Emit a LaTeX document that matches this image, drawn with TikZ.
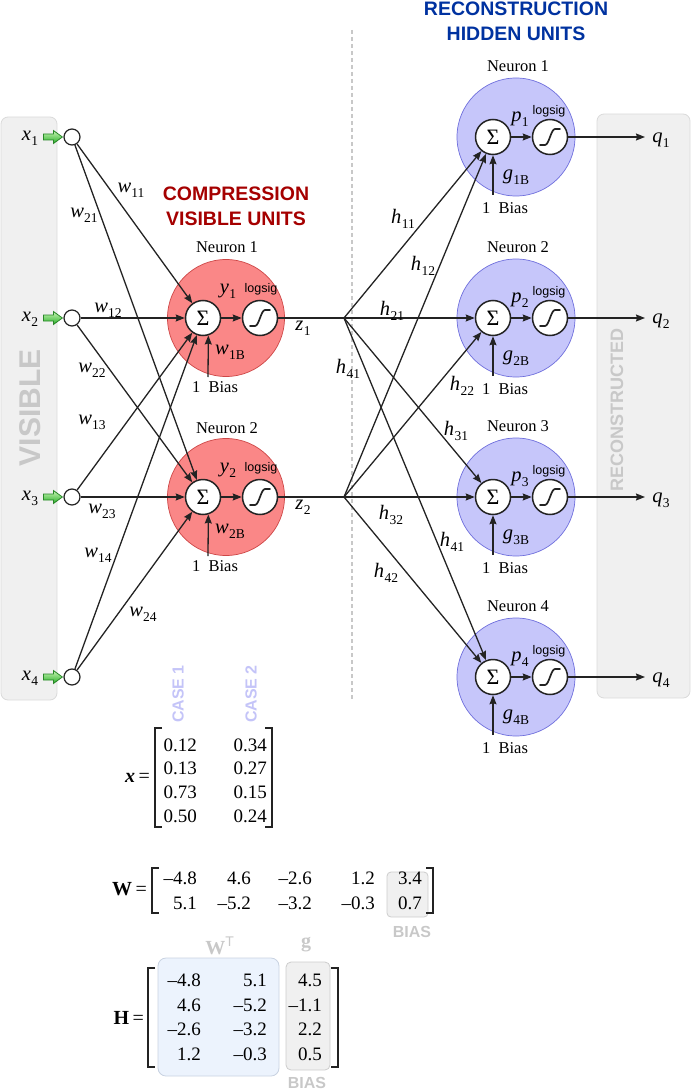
\documentclass[tikz,border=0pt]{standalone}
\usepackage{fontspec}
\setmainfont{Liberation Serif}
\setsansfont{Liberation Sans}
\usetikzlibrary{arrows.meta,calc}
\definecolor{linec}{RGB}{35,35,35}
\definecolor{redfill}{RGB}{250,135,135}
\definecolor{redline}{RGB}{205,70,70}
\definecolor{bluefill}{RGB}{198,198,250}
\definecolor{blueline}{RGB}{110,110,220}
\definecolor{boxfill}{RGB}{240,240,240}
\definecolor{boxline}{RGB}{218,218,218}
\definecolor{titlered}{RGB}{165,0,0}
\definecolor{titleblue}{RGB}{0,50,160}
\definecolor{casecol}{RGB}{196,196,248}
\definecolor{biascol}{RGB}{200,200,200}
\definecolor{wtbox}{RGB}{236,243,253}
\definecolor{wtline}{RGB}{200,210,225}
\definecolor{gboxline}{RGB}{205,205,205}
\newcommand\vs[2]{\textit{#1}\kern0.3pt\raisebox{-5pt}{\fontsize{13.5}{13.5}\selectfont #2}}
\newcommand\sigcurve[1]{\draw[line width=1.7pt,line cap=round,draw=linec] ([shift={(-10,8)}]#1.center) -- ++(5,0) .. controls +(4,0) and +(-4,0) .. ++(10,-16) -- ++(5,0);}
\begin{document}
\begin{tikzpicture}[x=1pt,y=-1pt,
  conn/.style={draw=linec,line width=1.3pt,-{Stealth[length=9pt,width=7pt,inset=1pt]}},
  plainline/.style={draw=linec,line width=1.3pt},
  sumnode/.style={circle,draw=linec,line width=1.5pt,fill=white,minimum size=35pt,inner sep=0pt,font=\fontsize{22}{22}\selectfont},
  innode/.style={circle,draw=linec,line width=1.2pt,fill=white,minimum size=16pt,inner sep=0pt},
  redneuron/.style={circle,fill=redfill,draw=redline,line width=0.7pt,minimum size=117pt,inner sep=0pt},
  blueneuron/.style={circle,fill=bluefill,draw=blueline,line width=0.7pt,minimum size=118pt,inner sep=0pt},
  lbl/.style={font=\fontsize{16.5}{18}\selectfont,inner sep=0pt},
  var/.style={font=\fontsize{20.5}{20.5}\selectfont,inner sep=0pt},
  lsg/.style={font=\sffamily\fontsize{12.5}{12.5}\selectfont,inner sep=0pt},
  num/.style={font=\fontsize{19}{19}\selectfont,inner sep=0pt,anchor=east},
  graybox/.style={fill=boxfill,draw=boxline,line width=0.8pt,rounded corners=7pt},
  garrow/.style={draw={rgb,255:red,40;green,135;blue,40},line width=0.8pt,top color={rgb,255:red,200;green,245;blue,180},bottom color={rgb,255:red,40;green,175;blue,40}},
  bracket/.style={draw=linec,line width=1.6pt}
]
\useasboundingbox (0,0) rectangle (693,1091);

% side boxes
\draw[graybox] (1,117) rectangle (57,700);
\draw[graybox] (597,114) rectangle (690,698);
\node[font=\sffamily\bfseries\fontsize{30}{30}\selectfont,text=biascol,rotate=90] (vis) at (30,408) {VISIBLE};
\node[font=\sffamily\bfseries\fontsize{18}{18}\selectfont,text=biascol,rotate=90] (rec) at (617,410) {RECONSTRUCTED};

% dashed separator
\draw[draw=biascol,line width=1.2pt,dash pattern=on 4pt off 3pt] (352,30) -- (352,700);

% titles
\node[font=\sffamily\bfseries\fontsize{19.5}{25}\selectfont,text=titlered,align=center] (ctitle) at (236,206) {COMPRESSION\\VISIBLE UNITS};
\node[font=\sffamily\bfseries\fontsize{19.5}{25}\selectfont,text=titleblue,align=center] (rtitle) at (516,21) {RECONSTRUCTION\\HIDDEN UNITS};

% compression neurons
\node[redneuron] (cn1) at (226,318) {};
\node[redneuron] (cn2) at (226,497) {};
\node[lbl] (cnl1) at (227,247) {Neuron 1};
\node[lbl] (cnl2) at (227,428) {Neuron 2};

% reconstruction neurons
\foreach \j/\y in {1/137,2/318,3/497,4/677}{
  \node[blueneuron] (bn\j) at (516,\y) {};
  \node[lbl] (bnl\j) at (518,\y-71) {Neuron \j};
}

% small nodes
\foreach \i/\y in {1/137,2/318,3/497,4/677}{
  \node[innode] (in\i) at (72,\y) {};
  \node[var] (xl\i) at (30,\y+1) {\vs{x}{\i}};
  \draw[garrow] ($(in\i.west)+(-1,0)$) -- ++(-9,-6.5) -- ++(0,3.5) -- ++(-10,0) -- ++(0,6) -- ++(10,0) -- ++(0,3.5) -- cycle;
}
\foreach \j/\y in {1/318,2/497}{
  \node[sumnode] (cs\j) at (203,\y) {Σ};
  \node[sumnode] (cl\j) at (260,\y) {};
  \sigcurve{cl\j}
  \coordinate (cb\j) at (208,\y+59);
  \coordinate (jn\j) at (344,\y);
}
\foreach \j/\y in {1/137,2/318,3/497,4/677}{
  \node[sumnode] (rs\j) at (493,\y) {Σ};
  \node[sumnode] (rl\j) at (550,\y) {};
  \sigcurve{rl\j}
  \coordinate (rb\j) at (493,\y+58);
  \coordinate (qo\j) at (645,\y);
}

% connectors: inputs -> compression
\foreach \i in {1,...,4}{
  \foreach \j in {1,2}{
    \draw[conn] (in\i) -- (cs\j);
  }
}
\foreach \j in {1,2}{
  \draw[conn] (cs\j) -- (cl\j);
  \draw[conn] (cb\j) -- (cs\j.-73);
  \draw[plainline] (cl\j.east) -- (jn\j);
  \foreach \k in {1,...,4}{
    \draw[conn] (jn\j) -- (rs\k);
  }
}
\foreach \k in {1,...,4}{
  \draw[conn] (rs\k) -- (rl\k);
  \draw[conn] (rb\k) -- (rs\k.south);
  \draw[conn] (rl\k.east) -- (qo\k);
}

% weight labels
\node[var] (w11) at (131,190) {\vs{w}{11}};
\node[var] (w21) at (84,215) {\vs{w}{21}};
\node[var] (w12) at (108,310) {\vs{w}{12}};
\node[var] (w22) at (92,370) {\vs{w}{22}};
\node[var] (w13) at (92,422) {\vs{w}{13}};
\node[var] (w23) at (102,511) {\vs{w}{23}};
\node[var] (w14) at (98,555) {\vs{w}{14}};
\node[var] (w24) at (143,614) {\vs{w}{24}};

% compression neuron labels
\foreach \j/\y in {1/318,2/497}{
  \node[var] (yl\j) at (228,\y-27) {\vs{y}{\j}};
  \node[lsg] (cls\j) at (261,\y-29) {logsig};
  \node[var] (wb\j) at (230,\y+34) {\vs{w}{\j B}};
  \node[lbl] (cbl\j) at (215,\y+69) {1\ \ Bias};
  \node[var] (zl\j) at (303,\y+10) {\vs{z}{\j}};
}

% h labels
\node[var] (h11) at (403,219) {\vs{h}{11}};
\node[var] (h12) at (423,266) {\vs{h}{12}};
\node[var] (h21) at (392,311) {\vs{h}{21}};
\node[var] (h41a) at (348,369) {\vs{h}{41}};
\node[var] (h22) at (462,386) {\vs{h}{22}};
\node[var] (h31) at (456,431) {\vs{h}{31}};
\node[var] (h32) at (391,515) {\vs{h}{32}};
\node[var] (h41b) at (452,542) {\vs{h}{41}};
\node[var] (h42) at (386,573) {\vs{h}{42}};

% reconstruction labels
\foreach \j/\y in {1/137,2/318,3/497,4/677}{
  \node[var] (pl\j) at (520,\y-18) {\vs{p}{\j}};
  \node[lsg] (rls\j) at (549,\y-26) {logsig};
  \node[var] (gl\j) at (516,\y+40) {\vs{g}{\j B}};
  \node[lbl] (rbl\j) at (505,\y+71) {1\ \ Bias};
  \node[var] (ql\j) at (661,\y+3) {\vs{q}{\j}};
}

% ---- x matrix ----
\node[font=\sffamily\bfseries\fontsize{16}{16}\selectfont,text=casecol,rotate=90] (case1) at (178,694) {CASE 1};
\node[font=\sffamily\bfseries\fontsize{16}{16}\selectfont,text=casecol,rotate=90] (case2) at (251,694) {CASE 2};
\node[font=\fontsize{20}{20}\selectfont,inner sep=0pt,anchor=east] (xeq) at (150,778) {\textbf{\textit{x}}\,=};
\draw[bracket] (162,728) -- (155,728) -- (155,827) -- (162,827);
\draw[bracket] (265,728) -- (272,728) -- (272,827) -- (265,827);
\foreach \r/\y/\a/\b in {1/745/0.12/0.34,2/768/0.13/0.27,3/792/0.73/0.15,4/816/0.50/0.24}{
  \node[num] (xa\r) at (197,\y) {\a};
  \node[num] (xb\r) at (267,\y) {\b};
}

% ---- W matrix ----
\node[font=\fontsize{20}{20}\selectfont,inner sep=0pt,anchor=east] (weq) at (147,889) {\textbf{W}\,=};
\draw[fill=boxfill,draw=gboxline,line width=0.8pt,rounded corners=4pt] (387,872) rectangle (428,917);
\draw[bracket] (159,868) -- (152,868) -- (152,913) -- (159,913);
\draw[bracket] (426,868) -- (433,868) -- (433,913) -- (426,913);
\foreach \c/\xx/\a/\b in {1/197/–4.8/5.1,2/251/4.6/–5.2,3/312/–2.6/–3.2,4/375/1.2/–0.3,5/422/3.4/0.7}{
  \node[num] (wa\c) at (\xx,878) {\a};
  \node[num] (wb\c) at (\xx,903) {\b};
}
\node[font=\sffamily\bfseries\fontsize{16}{16}\selectfont,text=biascol] (wbias) at (412,932) {BIAS};

% ---- H matrix ----
\node[font=\fontsize{20}{20}\selectfont,inner sep=0pt,anchor=east] (heq) at (144,1018) {\textbf{H}\,=};
\draw[fill=wtbox,draw=wtline,line width=0.8pt,rounded corners=8pt] (158,958) rectangle (279,1076);
\draw[fill=boxfill,draw=gboxline,line width=0.8pt,rounded corners=5pt] (286,962) rectangle (330,1070);
\draw[bracket] (155,968) -- (148,968) -- (148,1067) -- (155,1067);
\draw[bracket] (331,968) -- (338,968) -- (338,1067) -- (331,1067);
\node[font=\bfseries\fontsize{20}{20}\selectfont,text=biascol] (wtl) at (220,946) {W\textsuperscript{\sffamily\mdseries T}};
\node[font=\bfseries\fontsize{20}{20}\selectfont,text=biascol] (gtl) at (306,945) {g};
\foreach \r/\y/\a/\b/\c in {1/980/–4.8/5.1/4.5,2/1005/4.6/–5.2/–1.1,3/1029/–2.6/–3.2/2.2,4/1054/1.2/–0.3/0.5}{
  \node[num] (ha\r) at (201,\y) {\a};
  \node[num] (hb\r) at (267,\y) {\b};
  \node[num] (hc\r) at (322,\y) {\c};
}
\node[font=\sffamily\bfseries\fontsize{16}{16}\selectfont,text=biascol] (hbias) at (307,1083) {BIAS};
\end{tikzpicture}
\end{document}
